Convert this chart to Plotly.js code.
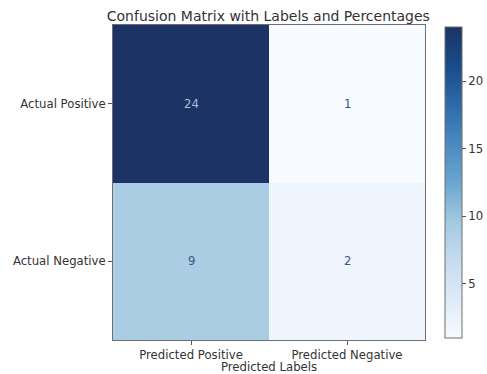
<!DOCTYPE html>
<html>
<head>
<meta charset="utf-8">
<script src="https://cdn.plot.ly/plotly-3.0.1.min.js"></script>
<style>html,body{margin:0;padding:0;background:#fff;}#chart{width:487px;height:374px;}</style>
</head>
<body>
<div id="chart"></div>
<script>
const predictedLabels = ["Predicted Positive", "Predicted Negative"];
const actualLabels = ["Actual Positive", "Actual Negative"];
const counts = [[24, 1], [9, 2]];
const colorbarTicks = [5, 10, 15, 20];

const blues = [
  [0.0, "#f7fbff"], [0.125, "#deebf7"], [0.25, "#c6dbef"], [0.375, "#a3c9e1"],
  [0.5, "#6ba6d0"], [0.625, "#4a89c0"], [0.75, "#2d6aaa"], [0.875, "#1a4b8a"], [1.0, "#1c3366"]
];

const FONT = "DejaVu Sans";
const zmin = 1, zmax = 24;
const annotations = [];
for (let i = 0; i < actualLabels.length; i++) {
  for (let j = 0; j < predictedLabels.length; j++) {
    const v = counts[i][j];
    const dark = (v - zmin) / (zmax - zmin) > 0.6;
    annotations.push({
      x: predictedLabels[j], y: actualLabels[i], xref: "x", yref: "y",
      text: String(v), showarrow: false,
      font: {family: FONT, size: 11.7, color: dark ? "#aebcdc" : "#3f5489"}
    });
  }
}

const trace = {
  type: "heatmap",
  x: predictedLabels, y: actualLabels, z: counts,
  zmin: zmin, zmax: zmax,
  colorscale: blues, showscale: true, xgap: 0, ygap: 0,
  hoverinfo: "skip",
  colorbar: {
    x: 1.064, xanchor: "left", xref: "paper",
    y: 0.5, yanchor: "middle", len: 0.987, lenmode: "fraction",
    thickness: 17, thicknessmode: "pixels",
    outlinewidth: 1, outlinecolor: "#6e6e6e",
    tickvals: colorbarTicks, ticks: "outside", ticklen: 4, tickcolor: "#555",
    tickfont: {family: FONT, size: 11.7, color: "#333"},
    xpad: 0, ypad: 0
  }
};

const layout = {
  width: 487, height: 374,
  margin: {l: 113, r: 62, t: 25, b: 34, autoexpand: false},
  paper_bgcolor: "#fff", plot_bgcolor: "#fff",
  title: {text: "Confusion Matrix with Labels and Percentages", x: 0.551, xanchor: "center", y: 0.958, yanchor: "middle",
          font: {family: FONT, size: 14, color: "#333"}},
  xaxis: {
    showgrid: false, zeroline: false, ticks: "outside", ticklen: 4, tickcolor: "#555",
    showline: true, linecolor: "#6e6e6e", linewidth: 1, mirror: true,
    tickfont: {family: FONT, size: 11.7, color: "#333"},
    title: {text: "Predicted Labels", standoff: 1, font: {family: FONT, size: 11.7, color: "#333"}}
  },
  yaxis: {
    autorange: "reversed",
    showgrid: false, zeroline: false, ticks: "outside", ticklen: 4, tickcolor: "#555",
    showline: true, linecolor: "#6e6e6e", linewidth: 1, mirror: true,
    tickfont: {family: FONT, size: 11.7, color: "#333"}
  },
  annotations: annotations
};

Plotly.newPlot("chart", [trace], layout, {displayModeBar: false, staticPlot: true});
</script>
</body>
</html>
